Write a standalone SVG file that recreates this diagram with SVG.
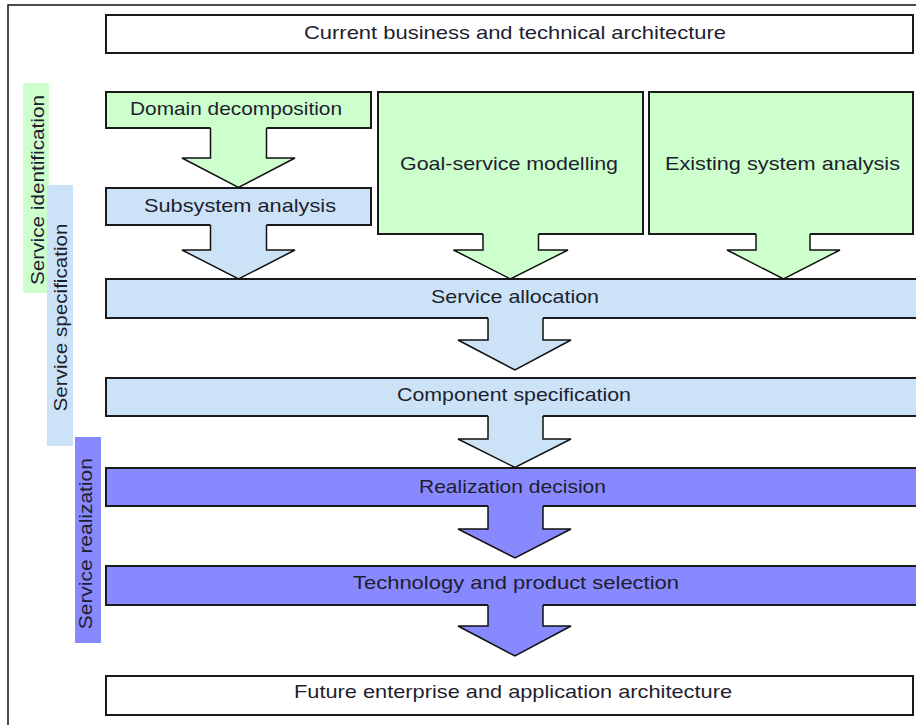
<svg xmlns="http://www.w3.org/2000/svg" width="916" height="725" viewBox="0 0 916 725">
<style>
  .box { stroke: #1a1a1a; stroke-width: 2; }
  .white { fill: #ffffff; }
  .green { fill: #CCFFCC; }
  .blue { fill: #CCE3F7; }
  .purple { fill: #8888FF; }
  .lbl { font-family: "Liberation Sans", Arial, sans-serif; font-size: 19px; fill: #1e1e2e; text-anchor: middle; }
  .afill { stroke: none; }
  .aline { fill: none; stroke: #111111; stroke-width: 1.5; stroke-linejoin: miter; }
</style>
<rect x="0" y="0" width="916" height="725" fill="#ffffff"/>
<g id="frame">
  <path d="M8 725 L8 5 L916 5" fill="none" stroke="#111111" stroke-width="1.5"/>
</g>
<g id="lane-identification">
  <rect x="23" y="83" width="26" height="210" class="green"/>
  <text class="lbl" transform="translate(43.5,190) rotate(-90)" textLength="190" lengthAdjust="spacingAndGlyphs">Service identification</text>
</g>
<g id="lane-specification">
  <rect x="47" y="185" width="26" height="261" class="blue"/>
  <text class="lbl" transform="translate(66.5,317.5) rotate(-90)" textLength="188" lengthAdjust="spacingAndGlyphs">Service specification</text>
</g>
<g id="lane-realization">
  <rect x="75" y="437" width="26" height="206" class="purple"/>
  <text class="lbl" transform="translate(91.5,543.7) rotate(-90)" textLength="171" lengthAdjust="spacingAndGlyphs">Service realization</text>
</g>
<g id="current-architecture">
  <rect x="106" y="15" width="807" height="38" class="box white"/>
  <text class="lbl" x="515" y="39" textLength="422" lengthAdjust="spacingAndGlyphs">Current business and technical architecture</text>
</g>
<g id="domain-decomposition">
  <rect x="106" y="92" width="265" height="36" class="box green"/>
  <text class="lbl" x="236" y="115" textLength="212" lengthAdjust="spacingAndGlyphs">Domain decomposition</text>
</g>
<g id="goal-service-modelling">
  <rect x="378" y="92" width="265" height="142" class="box green"/>
  <text class="lbl" x="509" y="170" textLength="218" lengthAdjust="spacingAndGlyphs">Goal-service modelling</text>
</g>
<g id="existing-system-analysis">
  <rect x="649" y="92" width="264" height="142" class="box green"/>
  <text class="lbl" x="782.5" y="170" textLength="235" lengthAdjust="spacingAndGlyphs">Existing system analysis</text>
</g>
<g id="subsystem-analysis">
  <rect x="106" y="188" width="265" height="37" class="box blue"/>
  <text class="lbl" x="240" y="212" textLength="192" lengthAdjust="spacingAndGlyphs">Subsystem analysis</text>
</g>
<g id="service-allocation">
  <rect x="106" y="279" width="820" height="39" class="box blue"/>
  <text class="lbl" x="515" y="303" textLength="168" lengthAdjust="spacingAndGlyphs">Service allocation</text>
</g>
<g id="component-specification">
  <rect x="106" y="378" width="820" height="38" class="box blue"/>
  <text class="lbl" x="514" y="401" textLength="234" lengthAdjust="spacingAndGlyphs">Component specification</text>
</g>
<g id="realization-decision">
  <rect x="106" y="468" width="820" height="38" class="box purple"/>
  <text class="lbl" x="512.5" y="493" textLength="187" lengthAdjust="spacingAndGlyphs">Realization decision</text>
</g>
<g id="technology-selection">
  <rect x="106" y="566" width="820" height="39" class="box purple"/>
  <text class="lbl" x="516" y="589" textLength="326" lengthAdjust="spacingAndGlyphs">Technology and product selection</text>
</g>
<g id="future-architecture">
  <rect x="106" y="676" width="807" height="39" class="box white"/>
  <text class="lbl" x="513" y="698" textLength="438" lengthAdjust="spacingAndGlyphs">Future enterprise and application architecture</text>
</g>
<g id="connectors">
  <!-- Domain decomposition -> Subsystem analysis -->
  <path class="afill green" d="M210.5 126.5 L210.5 158 L182 158 L238.5 187.5 L295 158 L266.5 158 L266.5 126.5 Z"/>
  <path class="aline" d="M210.5 128 L210.5 158 L182 158 L238.5 187.5 L295 158 L266.5 158 L266.5 128"/>
  <!-- Subsystem analysis -> Service allocation -->
  <path class="afill blue" d="M210.5 223.5 L210.5 250 L182 250 L238.5 279 L295 250 L266.5 250 L266.5 223.5 Z"/>
  <path class="aline" d="M210.5 225 L210.5 250 L182 250 L238.5 279 L295 250 L266.5 250 L266.5 225"/>
  <!-- Goal-service modelling -> Service allocation -->
  <path class="afill green" d="M483 232.5 L483 250 L453.5 250 L510.5 279 L568 250 L538.5 250 L538.5 232.5 Z"/>
  <path class="aline" d="M483 234 L483 250 L453.5 250 L510.5 279 L568 250 L538.5 250 L538.5 234"/>
  <!-- Existing system analysis -> Service allocation -->
  <path class="afill green" d="M756 232.5 L756 250 L727 250 L783.5 279 L840 250 L810 250 L810 232.5 Z"/>
  <path class="aline" d="M756 234 L756 250 L727 250 L783.5 279 L840 250 L810 250 L810 234"/>
  <!-- Service allocation -> Component specification -->
  <path class="afill blue" d="M488 316.5 L488 340 L458 340 L515 370 L571 340 L543 340 L543 316.5 Z"/>
  <path class="aline" d="M488 318 L488 340 L458 340 L515 370 L571 340 L543 340 L543 318"/>
  <!-- Component specification -> Realization decision -->
  <path class="afill blue" d="M488 414.5 L488 439 L458 439 L515 467.5 L571 439 L543 439 L543 414.5 Z"/>
  <path class="aline" d="M488 416 L488 439 L458 439 L515 467.5 L571 439 L543 439 L543 416"/>
  <!-- Realization decision -> Technology selection -->
  <path class="afill purple" d="M488 504.5 L488 529 L458 529 L515 558 L571 529 L543 529 L543 504.5 Z"/>
  <path class="aline" d="M488 506 L488 529 L458 529 L515 558 L571 529 L543 529 L543 506"/>
  <!-- Technology selection -> Future architecture -->
  <path class="afill purple" d="M488 603.5 L488 626 L458 626 L515 656 L571 626 L543 626 L543 603.5 Z"/>
  <path class="aline" d="M488 605 L488 626 L458 626 L515 656 L571 626 L543 626 L543 605"/>
</g>
</svg>
